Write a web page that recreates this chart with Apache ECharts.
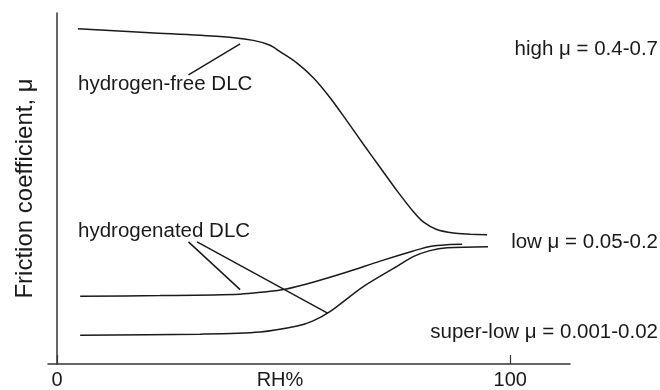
<!DOCTYPE html>
<html><head><meta charset="utf-8">
<script src="https://cdn.jsdelivr.net/npm/echarts@6/dist/echarts.min.js"></script>
<style>html,body{margin:0;padding:0;background:#fff}#c{width:660px;height:390px}</style>
</head><body><div id="c"></div>
<script>
// RH% (x) and relative friction (y, arbitrary units)
const hydrogenFree = [[4.6,95.5],[20.5,94.4],[36.0,93.3],[43.3,92.2],[47.0,90.8],[49.2,89.0],[52.9,85.8],[56.6,81.5],[60.3,75.8],[64.0,69.2],[67.6,62.6],[71.3,56.0],[75.0,49.4],[78.7,43.3],[80.9,40.4],[83.8,38.3],[87.5,37.3],[91.2,37.0],[94.9,36.8]];
const hydrogenatedUpper = [[5.1,19.3],[22.7,19.5],[40.4,19.9],[45.5,20.5],[50.3,21.3],[56.5,23.3],[64.0,26.2],[71.3,29.3],[78.6,32.2],[82.3,33.5],[86.1,34.0],[89.4,34.1]];
const hydrogenatedLower = [[5.1,8.2],[31.6,8.5],[44.8,9.1],[53.0,10.8],[56.5,12.3],[60.3,15.0],[67.5,22.0],[75.1,27.9],[78.6,30.6],[82.3,32.3],[86.1,33.1],[95.1,33.4]];
const leaderHF = [[29.0,82.4],[40.4,91.2]];
const leaderH1 = [[29.0,34.8],[40.4,21.2]];
const leaderH2 = [[30.9,34.8],[59.8,14.4]];
const xTickValues = [0, 100];
const xLabelValues = [0, 49.2, 100];
const xLabelTexts = {0:'0', 49.2:'RH%', 100:'100'};
const yTitle = 'Friction coefficient, \u03bc';
const notes = [
  {text:'hydrogen-free DLC', x:78, y:85, align:'left'},
  {text:'hydrogenated DLC', x:78, y:232, align:'left'},
  {text:'high \u03bc = 0.4-0.7', x:658, y:50, align:'right'},
  {text:'low \u03bc = 0.05-0.2', x:658, y:243, align:'right'},
  {text:'super-low \u03bc = 0.001-0.02', x:658, y:333, align:'right'}
];
const FONT = '"Liberation Sans", Arial, Helvetica, sans-serif';
const ink = '#1a1a1a';
const chart = echarts.init(document.getElementById('c'));
const lineStyle = {color: ink, width: 1.5};
function curve(data, smooth){
  return {type:'line', data, smooth: smooth, symbol:'none', lineStyle, silent:true, animation:false};
}
chart.setOption({
  animation:false,
  grid:{left:48, right:90, top:13, bottom:24},
  xAxis:{type:'value', min:-2, max:113.2,
    axisLine:{show:true, lineStyle:{color:'#333', width:1.5}},
    axisTick:{show:true, inside:true, length:9, customValues:xTickValues, lineStyle:{color:'#333', width:1.2}},
    axisLabel:{show:true, customValues:xLabelValues, margin:6, fontSize:20, color:ink, fontFamily:FONT,
      formatter:v=>xLabelTexts[v] !== undefined ? xLabelTexts[v] : ''},
    splitLine:{show:false}},
  yAxis:{type:'value', min:0, max:100,
    name:yTitle, nameLocation:'middle', nameGap:11, nameRotate:90,
    nameTextStyle:{fontSize:24, color:ink, fontFamily:FONT},
    axisLine:{show:true, lineStyle:{color:'#333', width:1.5}},
    axisTick:{show:false}, axisLabel:{show:false}, splitLine:{show:false}},
  graphic: notes.map(n=>({type:'text', left:n.align==='left'?n.x:undefined, right:n.align==='right'?660-n.x:undefined, top:n.y-11,
    style:{text:n.text, fontSize:20.5, fill:ink, fontFamily:FONT}})),
  series:[
    curve(hydrogenFree, 0.3),
    curve(hydrogenatedUpper, 0.3),
    curve(hydrogenatedLower, 0.3),
    curve(leaderHF, false),
    curve(leaderH1, false),
    curve(leaderH2, false)
  ]
});
</script></body></html>
